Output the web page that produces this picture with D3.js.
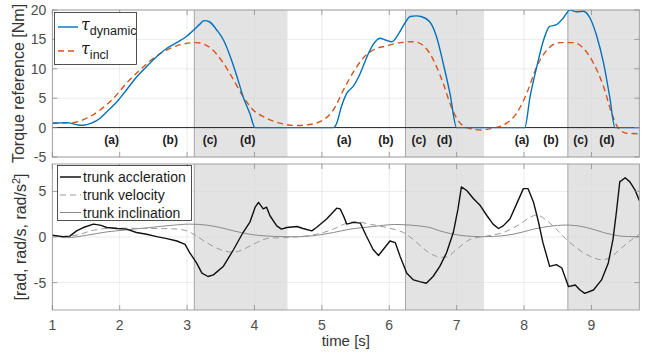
<!DOCTYPE html>
<html>
<head>
<meta charset="utf-8">
<script src="https://cdn.jsdelivr.net/npm/d3@7"></script>
<style>
  body { margin: 0; background: #fff; }
  text { font-family: "Liberation Sans", Arial, sans-serif; }
</style>
</head>
<body>
<svg id="chart" width="649" height="354"></svg>
<script>
// time axis ticks
const timeTicks = [1, 2, 3, 4, 5, 6, 7, 8, 9];
const torqueTicks = [-5, 0, 5, 10, 15, 20];
const trunkTicks = [-5, 0, 5];

// shaded phases (c)+(d)
const shadeStart = [3.107, 6.24, 8.65];
const shadeEnd = [4.49, 7.405, 9.71];

// phase labels
const phaseNames = ["(a)", "(b)", "(c)", "(d)", "(a)", "(b)", "(c)", "(d)", "(a)", "(b)", "(c)", "(d)"];
const phaseTimes = [1.88, 2.75, 3.34, 3.90, 5.33, 5.95, 6.44, 6.82, 7.97, 8.40, 8.84, 9.23];

// tau dynamic [Nm]
const dynT = [1.0, 1.21, 1.39, 1.46, 1.58, 1.71, 1.81, 1.96, 2.10, 2.25, 2.40, 2.55, 2.70, 2.85, 2.99, 3.09, 3.19, 3.25, 3.33, 3.44, 3.54, 3.64, 3.74, 3.83, 3.93, 4.01,
  5.17, 5.22, 5.29, 5.37, 5.47, 5.57, 5.66, 5.76, 5.86, 5.94, 6.04, 6.13, 6.23, 6.31, 6.40, 6.47, 6.60, 6.70, 6.80, 6.90, 7.0,
  8.01, 8.09, 8.19, 8.29, 8.38, 8.48, 8.58, 8.68, 8.78, 8.88, 8.98, 9.08, 9.18, 9.27, 9.35, 9.71];
const dynV = [0.75, 0.85, 0.45, 0.4, 0.75, 1.6, 2.7, 4.4, 6.4, 8.6, 10.4, 12.1, 13.5, 14.5, 15.5, 16.5, 17.6, 18.2, 18.0, 16.6, 14.9, 12.1, 8.7, 5.3, 2.45, 0,
  0, 0.75, 3.6, 5.85, 7.1, 9.25, 11.8, 14.1, 15.2, 14.9, 14.6, 15.8, 17.75, 18.9, 19.0, 18.9, 18.0, 15.5, 10.95, 5.85, 0,
  0, 5.3, 10.4, 14.9, 17.2, 17.5, 18.6, 20.0, 19.7, 19.8, 18.6, 15.5, 10.95, 5.3, 0, 0];

// tau inclination [Nm]
const inclT = [1.0, 1.31, 1.51, 1.71, 1.91, 2.10, 2.30, 2.50, 2.70, 2.90, 3.14, 3.34, 3.54, 3.69, 3.83, 3.98, 4.18, 4.38, 4.63, 4.87, 5.02, 5.17, 5.32, 5.47, 5.61, 5.76, 5.96, 6.16, 6.36, 6.50, 6.60, 6.70, 6.80, 6.90, 7.0, 7.15, 7.35, 7.54, 7.74, 7.89, 8.04, 8.19, 8.34, 8.53, 8.73, 8.88, 9.03, 9.18, 9.30, 9.40, 9.52, 9.71];
const inclV = [0.75, 0.85, 1.6, 3.0, 5.0, 7.55, 9.8, 11.8, 13.2, 14.1, 14.45, 13.6, 10.95, 8.1, 5.3, 3.0, 1.6, 0.75, 0.35, 0.63, 1.3, 3.0, 6.4, 9.5, 11.8, 13.2, 13.9, 14.45, 14.6, 14.0, 12.65, 10.4, 7.55, 4.15, 1.6, 0, -0.4, -0.1, 0.75, 2.45, 5.85, 10.4, 13.2, 14.45, 14.45, 13.5, 10.95, 6.95, 2.45, -0.1, -0.95, -1.05];

// trunk acceleration [rad/s^2]
const accT = [1.0, 1.16, 1.26, 1.36, 1.46, 1.61, 1.71, 1.81, 1.96, 2.10, 2.25, 2.40, 2.55, 2.70, 2.85, 2.97, 3.04, 3.14, 3.22, 3.31, 3.39, 3.54, 3.69, 3.83, 3.93, 4.01, 4.06, 4.13, 4.18, 4.23, 4.33, 4.40, 4.48, 4.63, 4.72, 4.85, 4.92, 5.07, 5.22, 5.27, 5.32, 5.37, 5.47, 5.57, 5.66, 5.76, 5.84, 5.91, 6.01, 6.09, 6.16, 6.26, 6.36, 6.45, 6.55, 6.65, 6.75, 6.85, 6.95, 7.02, 7.07, 7.15, 7.25, 7.35, 7.45, 7.54, 7.62, 7.69, 7.79, 7.89, 7.99, 8.06, 8.14, 8.21, 8.28, 8.38, 8.48, 8.56, 8.66, 8.76, 8.83, 8.90, 9.03, 9.15, 9.25, 9.32, 9.37, 9.42, 9.50, 9.57, 9.65, 9.71];
const accV = [0.19, 0.04, 0.1, 0.67, 1.04, 1.41, 1.3, 1.04, 0.93, 0.86, 0.49, 0.3, 0.04, -0.18, -0.44, -0.81, -1.73, -2.84, -3.96, -4.33, -4.15, -3.2, -1.37, 0.49, 1.6, 3.27, 3.8, 3.08, 3.27, 2.33, 1.22, 0.86, 1.04, 1.15, 0.93, 0.67, 1.04, 1.97, 3.16, 3.08, 2.33, 1.41, 1.6, 1.52, 0.11, -1.37, -2.03, -1.37, -0.44, -0.62, -2.11, -3.96, -4.7, -4.89, -5.07, -4.33, -3.22, -1.73, 0.49, 3.08, 5.49, 5.1, 4.19, 3.44, 2.33, 1.41, 0.93, 1.22, 1.97, 3.63, 5.3, 5.3, 3.82, 1.78, -0.62, -3.22, -3.03, -3.4, -5.44, -5.26, -5.81, -6.18, -5.81, -4.7, -2.84, -0.26, 2.71, 6.04, 6.49, 6.04, 5.1, 4.0];

// trunk velocity [rad/s]
const velT = [1.0, 1.21, 1.41, 1.61, 1.86, 2.1, 2.35, 2.60, 2.85, 3.0, 3.14, 3.29, 3.49, 3.69, 3.83, 4.03, 4.18, 4.43, 4.67, 4.92, 5.17, 5.37, 5.52, 5.71, 5.96, 6.21, 6.41, 6.55, 6.70, 6.85, 7.0, 7.2, 7.45, 7.69, 7.94, 8.09, 8.19, 8.31, 8.48, 8.68, 8.93, 9.13, 9.27, 9.42, 9.57, 9.71];
const velV = [0.19, 0.04, 0.3, 0.74, 0.97, 0.97, 0.93, 0.93, 0.86, 0.67, 0.11, -0.62, -1.37, -1.67, -1.37, -0.62, -0.18, -0.07, 0.04, 0.3, 0.86, 1.52, 1.67, 1.41, 1.04, 0.49, -0.62, -1.5, -2.11, -2.18, -1.37, -0.26, 0.11, 0.49, 1.41, 2.16, 2.41, 1.97, 0.86, -0.62, -1.92, -2.48, -2.29, -1.37, -0.44, 0.3];

// trunk inclination [rad]
const incT = [1.0, 1.21, 1.51, 1.81, 2.1, 2.45, 2.80, 3.04, 3.29, 3.49, 3.69, 3.93, 4.18, 4.67, 4.92, 5.17, 5.42, 5.76, 6.06, 6.31, 6.60, 6.75, 7.05, 7.45, 7.84, 8.14, 8.43, 8.68, 8.93, 9.18, 9.42, 9.71];
const incV = [0.19, -0.07, 0.19, 0.56, 0.78, 1.04, 1.3, 1.41, 1.3, 1.04, 0.67, 0.3, 0.11, 0.04, 0.19, 0.49, 0.86, 1.15, 1.37, 1.3, 1.04, 0.67, 0.19, 0.04, 0.3, 0.86, 1.22, 1.3, 1.04, 0.49, 0.11, 0.04];

const svg = d3.select("#chart");
const frameColor = "#8c8c8c";
const tickColor = "#4d4d4d";

const x = d3.scaleLinear().domain([1, 9.71]).range([52.3, 639.3]);
const yTop = d3.scaleLinear().domain([-5, 20]).range([157, 10]);
const yBot = d3.scaleLinear().domain([-8, 8]).range([310, 164]);

const zip = (t, v) => t.map((d, i) => [d, v[i]]);

function drawPanel(y, yTicks, clipId) {
  const [x0, x1] = x.range();
  const [yb, yt] = y.range();
  const g = svg.append("g");

  svg.append("clipPath").attr("id", clipId)
    .append("rect").attr("x", x0).attr("y", yt).attr("width", x1 - x0).attr("height", yb - yt);

  // shading
  g.selectAll(".shade")
    .data(d3.zip(shadeStart, shadeEnd))
    .join("rect")
    .attr("x", (d) => x(d[0]))
    .attr("y", yt)
    .attr("width", (d) => x(d[1]) - x(d[0]))
    .attr("height", yb - yt)
    .attr("fill", "#e3e3e3");

  // grid
  g.selectAll(".gx").data(timeTicks).join("line")
    .attr("x1", (d) => x(d)).attr("x2", (d) => x(d))
    .attr("y1", yt).attr("y2", yb)
    .attr("stroke", "#d9d9d9").attr("stroke-width", 0.6).attr("opacity", 0.8);
  g.selectAll(".gy").data(yTicks).join("line")
    .attr("x1", x0).attr("x2", x1)
    .attr("y1", (d) => y(d)).attr("y2", (d) => y(d))
    .attr("stroke", "#d9d9d9").attr("stroke-width", 0.6).attr("opacity", 0.8);

  // vertical lines at shading start
  g.selectAll(".vl").data(shadeStart).join("line")
    .attr("x1", (d) => x(d)).attr("x2", (d) => x(d))
    .attr("y1", yt).attr("y2", yb)
    .attr("stroke", "#a6a6a6").attr("stroke-width", 1);

  return g;
}

function drawFrame(y, yTicks, showXLabels) {
  const [x0, x1] = x.range();
  const [yb, yt] = y.range();
  const g = svg.append("g");
  g.append("rect")
    .attr("x", x0).attr("y", yt).attr("width", x1 - x0).attr("height", yb - yt)
    .attr("fill", "none").attr("stroke", frameColor).attr("stroke-width", 0.8);

  const tl = 5;
  // x ticks (inward, bottom and top)
  g.selectAll(".xt").data(timeTicks).join("path")
    .attr("d", (d) => `M${x(d)},${yb}v${-tl}M${x(d)},${yt}v${tl}`)
    .attr("stroke", frameColor).attr("stroke-width", 0.8);
  g.selectAll(".yt").data(yTicks).join("path")
    .attr("d", (d) => `M${x0},${y(d)}h${tl}M${x1},${y(d)}h${-tl}`)
    .attr("stroke", frameColor).attr("stroke-width", 0.8);

  g.selectAll(".ytl").data(yTicks).join("text")
    .attr("x", x0 - 6).attr("y", (d) => y(d) + 5)
    .attr("text-anchor", "end")
    .attr("font-size", 14).attr("fill", tickColor)
    .text((d) => d);

  if (showXLabels) {
    g.selectAll(".xtl").data(timeTicks).join("text")
      .attr("x", (d) => x(d)).attr("y", yb + 20)
      .attr("text-anchor", "middle")
      .attr("font-size", 14).attr("fill", tickColor)
      .text((d) => d);
  }
}

// ---------- top panel ----------
const topG = drawPanel(yTop, torqueTicks, "clipTop");
const topLines = topG.append("g").attr("clip-path", "url(#clipTop)");

topLines.append("line")
  .attr("x1", x.range()[0]).attr("x2", x.range()[1])
  .attr("y1", yTop(0)).attr("y2", yTop(0))
  .attr("stroke", "#222").attr("stroke-width", 1);

const lineTop = d3.line().x((d) => x(d[0])).y((d) => yTop(d[1])).curve(d3.curveMonotoneX);

topLines.append("path")
  .attr("d", lineTop(zip(inclT, inclV)))
  .attr("fill", "none").attr("stroke", "#D95319")
  .attr("stroke-width", 1.4).attr("stroke-dasharray", "6,4");

topLines.append("path")
  .attr("d", lineTop(zip(dynT, dynV)))
  .attr("fill", "none").attr("stroke", "#0072BD")
  .attr("stroke-width", 1.4);

topG.selectAll(".phase").data(phaseNames).join("text")
  .attr("x", (d, i) => x(phaseTimes[i]))
  .attr("y", yTop(-2.8))
  .attr("text-anchor", "middle")
  .attr("font-size", 12).attr("font-weight", "bold").attr("fill", "#1a1a1a")
  .text((d) => d);

drawFrame(yTop, torqueTicks, false);

// legend top
const legTop = svg.append("g");
legTop.append("rect").attr("x", 54.5).attr("y", 12.5).attr("width", 82).attr("height", 52)
  .attr("fill", "#fff").attr("stroke", "#262626").attr("stroke-width", 0.8);
const topLegend = [
  { sub: "dynamic", color: "#0072BD", dash: null, y: 27 },
  { sub: "incl", color: "#D95319", dash: "6,4", y: 51 }
];
topLegend.forEach((d) => {
  legTop.append("line").attr("x1", 58).attr("x2", 78).attr("y1", d.y).attr("y2", d.y)
    .attr("stroke", d.color).attr("stroke-width", 1.4).attr("stroke-dasharray", d.dash);
  const t = legTop.append("text").attr("x", 81).attr("y", d.y + 3).attr("font-size", 16).attr("fill", "#1a1a1a");
  t.append("tspan").attr("font-style", "italic").attr("font-family", "DejaVu Serif, serif").attr("font-size", 16).text("τ");
  t.append("tspan").attr("dy", 5).attr("font-size", 12.5).text(d.sub);
});

svg.append("text")
  .attr("transform", `translate(24,${(yTop(20) + yTop(-5)) / 2}) rotate(-90)`)
  .attr("text-anchor", "middle").attr("font-size", 16).attr("fill", "#333")
  .text("Torque reference [Nm]");

// ---------- bottom panel ----------
const botG = drawPanel(yBot, trunkTicks, "clipBot");
const botLines = botG.append("g").attr("clip-path", "url(#clipBot)");
const lineBot = d3.line().x((d) => x(d[0])).y((d) => yBot(d[1]));

botLines.append("path")
  .attr("d", lineBot.curve(d3.curveCatmullRom)(zip(incT, incV)))
  .attr("fill", "none").attr("stroke", "#8a8a8a").attr("stroke-width", 1);

botLines.append("path")
  .attr("d", lineBot.curve(d3.curveCatmullRom)(zip(velT, velV)))
  .attr("fill", "none").attr("stroke", "#9a9a9a").attr("stroke-width", 1)
  .attr("stroke-dasharray", "6,4");

botLines.append("path")
  .attr("d", lineBot.curve(d3.curveLinear)(zip(accT, accV)))
  .attr("fill", "none").attr("stroke", "#111").attr("stroke-width", 1.4)
  .attr("stroke-linejoin", "round");

drawFrame(yBot, trunkTicks, true);

// legend bottom
const legBot = svg.append("g");
legBot.append("rect").attr("x", 57.5).attr("y", 165.5).attr("width", 134).attr("height", 55)
  .attr("fill", "#fff").attr("stroke", "#262626").attr("stroke-width", 0.8);
const botLegend = [
  { name: "trunk accleration", color: "#111", w: 1.5, dash: null, y: 177 },
  { name: "trunk velocity", color: "#9a9a9a", w: 1, dash: "6,4", y: 195 },
  { name: "trunk inclination", color: "#8a8a8a", w: 1, dash: null, y: 212.5 }
];
botLegend.forEach((d) => {
  legBot.append("line").attr("x1", 60).attr("x2", 81).attr("y1", d.y).attr("y2", d.y)
    .attr("stroke", d.color).attr("stroke-width", d.w).attr("stroke-dasharray", d.dash);
  legBot.append("text").attr("x", 83).attr("y", d.y + 5)
    .attr("font-size", 14).attr("fill", "#1a1a1a").text(d.name);
});

const yl = svg.append("text")
  .attr("transform", `translate(26,${(yBot(8) + yBot(-8)) / 2}) rotate(-90)`)
  .attr("text-anchor", "middle").attr("font-size", 16).attr("fill", "#333");
yl.append("tspan").text("[rad, rad/s, rad/s");
yl.append("tspan").attr("dy", -6).attr("font-size", 11).text("2");
yl.append("tspan").attr("dy", 6).text("]");

svg.append("text")
  .attr("x", (x(1) + x(9.71)) / 2).attr("y", 346)
  .attr("text-anchor", "middle").attr("font-size", 15).attr("fill", "#333")
  .text("time [s]");
</script>
</body>
</html>
